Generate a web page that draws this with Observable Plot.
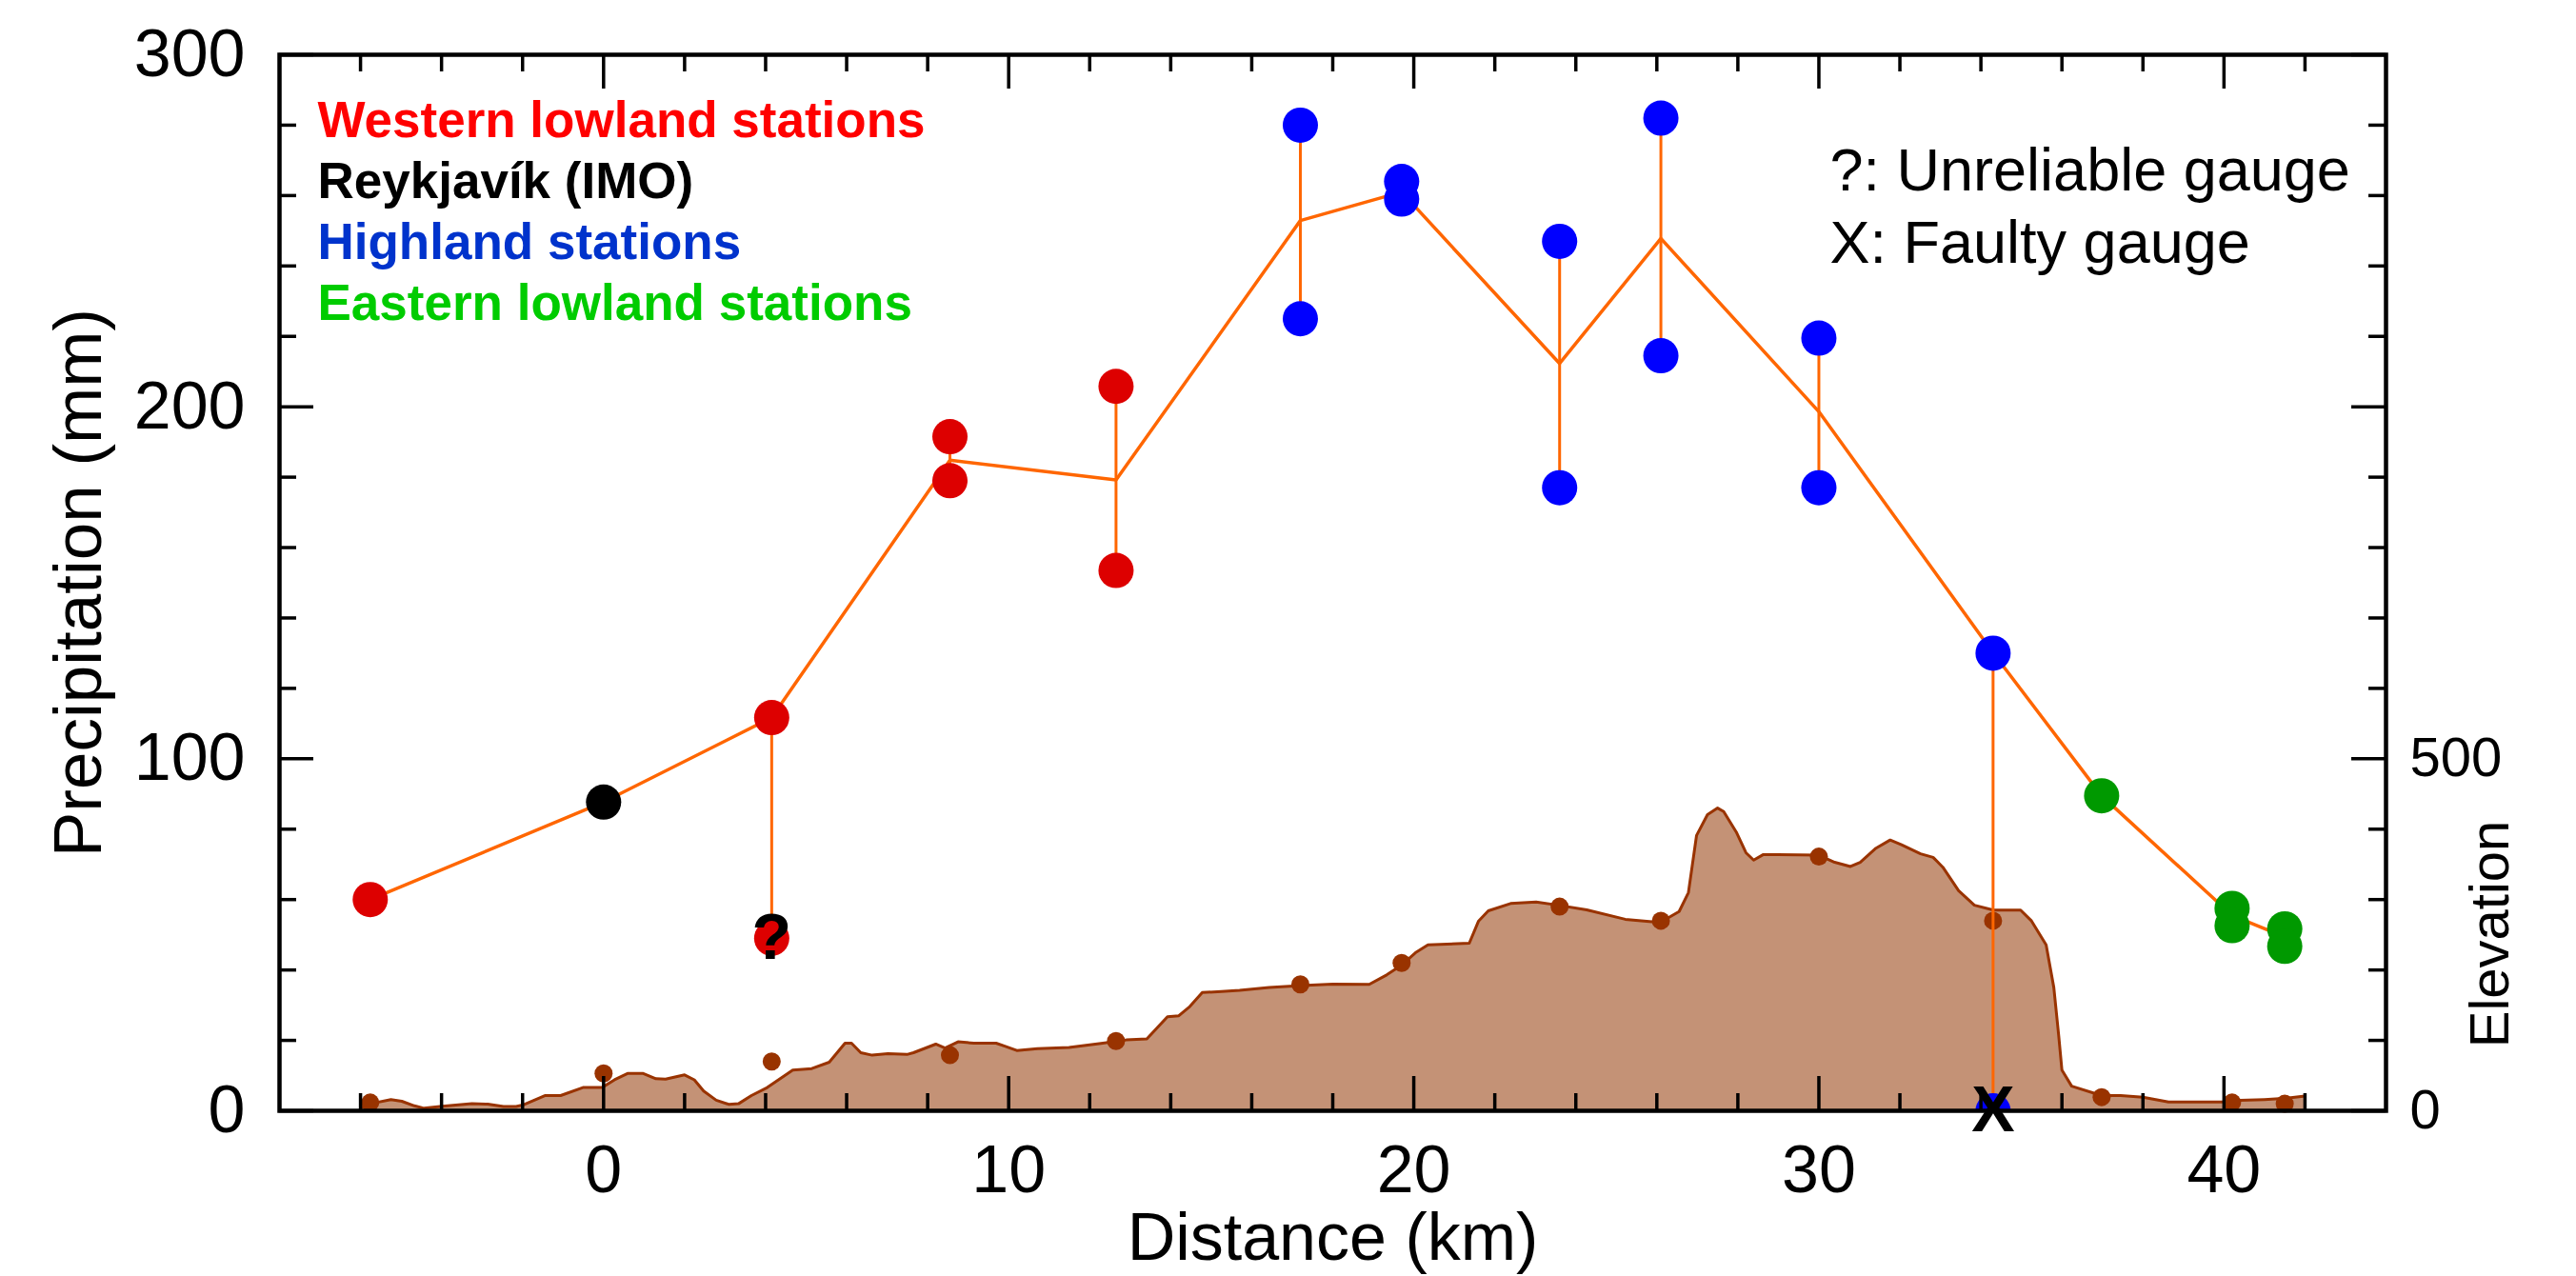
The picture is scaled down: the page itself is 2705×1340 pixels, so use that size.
<!DOCTYPE html>
<html>
<head>
<meta charset="utf-8">
<script src="https://cdn.jsdelivr.net/npm/d3@7"></script>
<script src="https://cdn.jsdelivr.net/npm/@observablehq/plot@0.6"></script>
<style>
  html, body { margin: 0; padding: 0; background: #ffffff; }
  #chart { width: 2705px; height: 1340px; }
</style>
</head>
<body>
<div id="chart"></div>
<script>
// ---- Data ----
const groups = ["Western lowland stations", "Reykjavík (IMO)", "Highland stations", "Eastern lowland stations"];
const groupDotColors = ["#dd0000", "#000000", "#0000ff", "#009900"];
const groupTextColors = ["#ff0000", "#000000", "#0033cc", "#00cc00"];

// Individual gauges: distance (km), precipitation (mm), group index, flag
const stationKm    = [-5.76, 0, 4.15, 4.15, 8.55, 8.55, 12.65, 12.65, 17.2, 17.2, 19.7, 19.7, 23.6, 23.6, 26.1, 26.1, 30.0, 30.0, 34.3, 34.3, 36.98, 40.2, 40.2, 41.5, 41.5];
const stationMm    = [60, 87.7, 111.7, 49, 191.5, 179, 205.8, 153.5, 280, 225, 264, 259, 247, 177, 282, 214.5, 219.5, 177, 130, 0, 89.5, 57.5, 52.6, 51.7, 46.7];
const stationGroup = [0, 1, 0, 0, 0, 0, 0, 0, 2, 2, 2, 2, 2, 2, 2, 2, 2, 2, 2, 2, 3, 3, 3, 3, 3];
const stationFlag  = ["", "", "", "?", "", "", "", "", "", "", "", "", "", "", "", "", "", "", "", "X", "", "", "", "", ""];

// Orange profile line (station means, flagged gauges excluded)
const meanKm = [-5.76, 0, 4.15, 8.55, 12.65, 17.2, 19.7, 23.6, 26.1, 30.0, 34.3, 36.98, 40.2, 41.5];
const meanMm = [60, 87.7, 111.7, 184.8, 179.2, 252.9, 261, 212.3, 247.8, 198.6, 130.1, 89.5, 55.5, 49.4];

// Terrain profile: distance (km), elevation (m)
const terrainKm = [-5.95, -5.76, -5.25, -4.98, -4.67, -4.43, -4.04, -3.65, -3.25, -2.86, -2.47, -2.16, -2.0, -1.45, -1.06, -0.51, -0.04, 0.27, 0.59, 0.98, 1.29, 1.53, 2.0, 2.24, 2.47, 2.78, 3.1, 3.33, 3.65, 4.04, 4.67, 5.14, 5.57, 5.96, 6.12, 6.35, 6.63, 7.02, 7.49, 7.65, 8.2, 8.43, 8.75, 9.14, 9.69, 9.92, 10.2, 10.71, 11.49, 12.28, 12.9, 13.41, 13.92, 14.2, 14.47, 14.78, 15.25, 15.7, 16.43, 17.22, 18.0, 18.9, 19.33, 19.69, 20.04, 20.35, 21.37, 21.6, 21.84, 22.39, 23.02, 23.57, 24.27, 25.22, 26.08, 26.55, 26.78, 26.98, 27.25, 27.5, 27.65, 27.96, 28.2, 28.39, 28.63, 28.98, 30.0, 30.39, 30.78, 31.02, 31.41, 31.76, 32.04, 32.51, 32.82, 33.06, 33.45, 33.84, 34.31, 34.98, 35.25, 35.61, 35.8, 35.92, 36.0, 36.24, 36.98, 37.45, 38.0, 38.63, 39.95, 40.2, 41.0, 41.55, 42.0];
const terrainElev = [5, 10, 16, 13.5, 7, 3.6, 6, 8, 10, 9.5, 6, 6, 8, 21.6, 21.6, 33, 33, 44, 53, 53, 45.5, 45, 51, 44, 28, 15, 9, 10, 21.6, 33, 57.7, 60, 69, 96, 96, 82.5, 79, 81, 80, 82.5, 94.7, 89, 98, 96, 96, 91.5, 85.7, 88.4, 90, 95.6, 100.6, 102, 133.5, 135, 148, 168, 169.5, 171, 175, 178, 180, 179.5, 193, 206.6, 224.5, 235.8, 238, 269.6, 284, 294.4, 296.6, 292, 285.4, 272, 267.4, 283, 310, 391, 420.7, 430, 425, 396, 366.6, 356, 364, 364, 363, 353, 347, 353, 373, 384.6, 377.8, 365, 360, 346, 312.5, 292, 285, 285, 269.6, 235.8, 175, 107, 57.7, 35, 21.6, 21.6, 19.4, 12.6, 12.6, 14.4, 16, 17.8, 21];

// Gauge elevations (m)
const gaugeElevKm = [-5.76, 0, 4.15, 8.55, 12.65, 17.2, 19.7, 23.6, 26.1, 30.0, 34.3, 36.98, 40.2, 41.5];
const gaugeElev   = [11.7, 53, 70, 79, 99, 179.5, 210, 290, 270, 361, 270, 19.4, 11.7, 10];

// Axes
const xMajorTicks = [0, 10, 20, 30, 40];
const xMinorTicks = [-6, -4, -2, 2, 4, 6, 8, 12, 14, 16, 18, 22, 24, 26, 28, 32, 34, 36, 38, 42];
const yMajorTicks = [0, 100, 200, 300];
const yMinorTicks = [20, 40, 60, 80, 120, 140, 160, 180, 220, 240, 260, 280];
const elevTickLabels = [0, 500];
const mPerMm = 5; // right axis: 500 m aligns with 100 mm
const notes = ["?: Unreliable gauge", "X: Faulty gauge"];
const xLabel = "Distance (km)";
const yLabel = "Precipitation (mm)";
const y2Label = "Elevation";

// ---- Tables ----
const stations = stationKm.map((km, i) => ({km, mm: stationMm[i], group: groups[stationGroup[i]], flag: stationFlag[i]}));
const means = meanKm.map((km, i) => ({km, mm: meanMm[i]}));
const terrain = terrainKm.map((km, i) => ({km, elev: terrainElev[i]}));
const gaugeElevs = gaugeElevKm.map((km, i) => ({km, elev: gaugeElev[i]}));

// ---- Layout ----
const W = 2705, H = 1340;
const mL = 293, mR = 200, mT = 57, mB = 174;
const innerW = W - mL - mR, innerH = H - mT - mB;
const majorLen = 36, minorLen = 18;
const font = "'Liberation Sans', Arial, Helvetica, sans-serif";
const tickStyle = {stroke: "#000", strokeWidth: 3.5};

const marks = [
  // terrain
  Plot.areaY(terrain, {x: "km", y: d => d.elev / mPerMm, fill: "#c49276"}),
  Plot.lineY(terrain, {x: "km", y: d => d.elev / mPerMm, stroke: "#993300", strokeWidth: 3}),
  Plot.dot(gaugeElevs, {x: "km", y: d => d.elev / mPerMm, r: 9.5, fill: "#993300", stroke: "none"}),
  // gauge spread and mean profile
  Plot.ruleX(stations, Plot.groupX({y1: "min", y2: "max"}, {x: "km", y: "mm", stroke: "#ff6600", strokeWidth: 3})),
  Plot.line(means, {x: "km", y: "mm", stroke: "#ff6600", strokeWidth: 3.5}),
  Plot.dot(stations, {x: "km", y: "mm", r: 18.5, fill: "group", stroke: "none", clip: true}),
  // ticks (inward)
  Plot.tickX(xMajorTicks, {x: d => d, insetTop: innerH - majorLen, ...tickStyle}),
  Plot.tickX(xMajorTicks, {x: d => d, insetBottom: innerH - majorLen, ...tickStyle}),
  Plot.tickX(xMinorTicks, {x: d => d, insetTop: innerH - minorLen, ...tickStyle}),
  Plot.tickX(xMinorTicks, {x: d => d, insetBottom: innerH - minorLen, ...tickStyle}),
  Plot.tickY(yMajorTicks, {y: d => d, insetRight: innerW - majorLen, ...tickStyle}),
  Plot.tickY(yMajorTicks, {y: d => d, insetLeft: innerW - majorLen, ...tickStyle}),
  Plot.tickY(yMinorTicks, {y: d => d, insetRight: innerW - minorLen, ...tickStyle}),
  Plot.tickY(yMinorTicks, {y: d => d, insetLeft: innerW - minorLen, ...tickStyle}),
  Plot.frame({stroke: "#000", strokeWidth: 4.5}),
  // flags
  Plot.text(stations.filter(d => d.flag), {x: "km", y: "mm", text: "flag", fontSize: 68, fontWeight: "bold", fontFamily: font, fill: "#000", textAnchor: "middle", lineAnchor: "middle"}),
  // tick labels
  Plot.text(xMajorTicks, {x: d => d, text: d => String(d), frameAnchor: "bottom", lineAnchor: "top", dy: 36, fontSize: 70, fontFamily: font, fill: "#000"}),
  Plot.text(yMajorTicks, {y: d => d, text: d => String(d), frameAnchor: "left", textAnchor: "end", lineAnchor: "middle", dx: -36, fontSize: 70, fontFamily: font, fill: "#000"}),
  Plot.text(elevTickLabels, {y: d => d / mPerMm, text: d => String(d), frameAnchor: "right", textAnchor: "start", lineAnchor: "middle", dx: 25, fontSize: 58, fontFamily: font, fill: "#000"}),
  // axis titles
  Plot.text([xLabel], {text: d => d, frameAnchor: "bottom", textAnchor: "middle", lineAnchor: "bottom", dy: 156, fontSize: 70, fontFamily: font, fill: "#000"}),
  Plot.text([yLabel], {text: d => d, frameAnchor: "left", textAnchor: "middle", rotate: -90, lineAnchor: "bottom", dx: -188, fontSize: 71, fontFamily: font, fill: "#000"}),
  Plot.text([y2Label], {text: d => d, frameAnchor: "right", textAnchor: "middle", rotate: -90, lineAnchor: "bottom", dx: 128, dy: 369, fontSize: 58, fontFamily: font, fill: "#000"}),
  // notes
  ...notes.map((t, i) => Plot.text([t], {text: d => d, frameAnchor: "top-left", textAnchor: "start", lineAnchor: "bottom", dx: 1628, dy: 142 + i * 76, fontSize: 63, fontFamily: font, fill: "#000"})),
  // legend
  ...groups.map((g, i) => Plot.text([g], {text: d => d, frameAnchor: "top-left", textAnchor: "start", lineAnchor: "bottom", dx: 40, dy: 86 + i * 64.3, fontSize: 53, fontWeight: "bold", fontFamily: font, fill: groupTextColors[i]}))
];

const chart = Plot.plot({
  width: W,
  height: H,
  marginLeft: mL,
  marginRight: mR,
  marginTop: mT,
  marginBottom: mB,
  x: {domain: [-8, 44], axis: null},
  y: {domain: [0, 300], axis: null},
  color: {domain: groups, range: groupDotColors},
  style: {fontFamily: font, background: "#ffffff", color: "#000"},
  marks
});
document.getElementById("chart").appendChild(chart);
</script>
</body>
</html>
